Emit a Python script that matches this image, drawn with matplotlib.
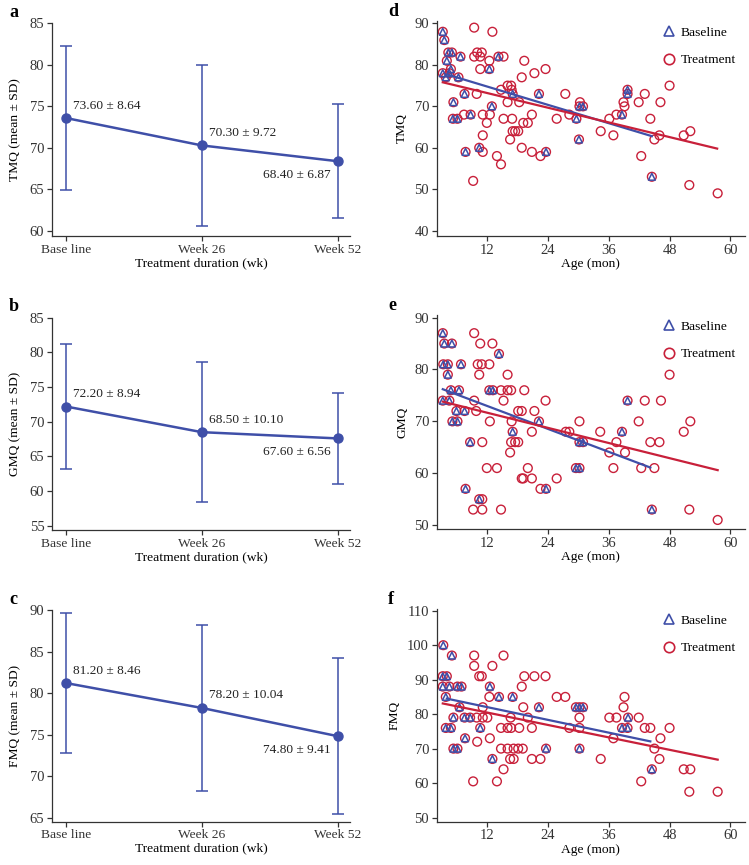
import numpy as np
import matplotlib
matplotlib.use("Agg")
import matplotlib.pyplot as plt
from matplotlib.lines import Line2D

plt.rcParams["font.family"] = ["Liberation Serif", "DejaVu Serif"]

# ===================== DATA =====================
time_labels = ["Base line", "Week 26", "Week 52"]

tmq_mean = [73.60, 70.30, 68.40]
tmq_sd = [8.64, 9.72, 6.87]
gmq_mean = [72.20, 68.50, 67.60]
gmq_sd = [8.94, 10.10, 6.56]
fmq_mean = [81.20, 78.20, 74.80]
fmq_sd = [8.46, 10.04, 9.41]

# panel d (TMQ vs age)
d_base_age = [3.2, 3.5, 4.3, 5.0, 4.0, 4.8, 6.7, 3.2, 3.8, 4.5, 6.3, 12.4, 14.2, 7.5,
              5.3, 5.2, 6.1, 8.7, 12.9, 17.0, 22.2, 29.6, 30.2, 30.9, 38.6, 39.7,
              39.7, 30.1, 7.7, 10.4, 23.6, 44.5]
d_base_score = [88, 86, 83, 83, 81, 79, 82, 78, 77, 78, 77, 79, 82, 73,
                71, 67, 67, 68, 70, 73, 73, 67, 70, 70, 68, 74,
                73, 62, 59, 60, 59, 53]
d_extra_age = [9.4, 13.0, 9.4, 10.0, 10.9, 10.6, 12.4, 15.2, 10.6, 19.3, 18.8, 21.3,
               23.5, 9.9, 14.7, 16.0, 16.7, 16.8, 16.0, 18.3, 16.9, 15.2, 11.1, 12.5,
               7.4, 11.9, 11.1, 16.5, 17.0, 17.5, 18.1, 19.1, 20.0, 20.8, 27.4, 28.2,
               25.7, 30.3, 34.4, 36.1, 36.9, 37.5, 38.9, 39.1, 41.9, 43.1, 44.2, 46.2,
               48.0, 45.0, 46.0, 50.8, 52.1, 9.2, 11.1, 13.9, 14.7, 18.8, 20.8, 22.5,
               42.4, 51.9, 57.5]
d_extra_score = [89, 88, 82, 83, 83, 82, 81, 82, 79, 81, 77, 78,
                 79, 73, 74, 75, 75, 74, 71, 71, 67, 67, 68, 68,
                 68, 66, 63, 62, 64, 64, 64, 66, 66, 68, 73, 68,
                 67, 71, 64, 67, 63, 68, 71, 70, 71, 73, 67, 71,
                 75, 62, 63, 63, 64, 52, 59, 58, 56, 60, 59, 58,
                 58, 51, 49]
d_base_fit = ([4.3, 44.5], [77.6, 62.8])
d_treat_fit = ([3.2, 57.4], [75.8, 59.8])

# panel e (GMQ vs age)
e_base_age = [3.2, 3.5, 5.0, 3.3, 4.2, 4.2, 6.8, 14.3, 12.4, 13.1, 4.8, 6.4, 3.2, 4.5,
              5.9, 7.5, 5.1, 6.1, 22.2, 17.0, 39.7, 38.6, 8.6, 30.2, 30.9, 29.5,
              30.2, 7.7, 10.4, 23.6, 44.5]
e_base_score = [87, 85, 85, 81, 81, 79, 81, 83, 76, 76, 76, 76, 74, 74,
                72, 72, 70, 70, 70, 68, 74, 68, 66, 66, 66, 61,
                61, 57, 55, 57, 53]
e_extra_age = [9.4, 10.6, 13.0, 10.1, 10.9, 12.4, 10.4, 16.0, 9.4, 9.8, 12.5, 14.7,
               16.0, 16.7, 19.3, 15.2, 18.1, 18.8, 16.8, 21.3, 23.5, 20.8, 27.5, 28.2,
               30.2, 34.3, 41.9, 43.1, 46.3, 48.0, 50.8, 52.1, 11.0, 16.5, 16.7, 17.5,
               18.1, 11.9, 13.9, 20.0, 18.8, 19.1, 20.8, 25.7, 22.5, 9.2, 11.0, 14.7,
               11.0, 37.5, 36.1, 39.2, 36.9, 42.4, 45.0, 44.2, 46.0, 51.9, 57.5]
e_extra_score = [87, 85, 85, 81, 81, 81, 79, 79, 74, 72, 70, 76,
                 76, 76, 76, 74, 72, 72, 70, 72, 74, 68, 68, 68,
                 70, 68, 70, 74, 74, 79, 68, 70, 66, 64, 66, 66,
                 66, 61, 61, 61, 59, 59, 59, 59, 57, 53, 53, 53,
                 55, 66, 64, 64, 61, 61, 61, 66, 66, 53, 51]
e_base_fit = ([3.2, 44.2], [76.2, 61.1])
e_treat_fit = ([3.2, 57.5], [73.8, 60.6])

# panel f (FMQ vs age)
f_base_age = [3.3, 5.0, 3.2, 4.0, 3.2, 4.5, 6.1, 6.9, 3.8, 6.5, 12.5, 14.3, 17.0, 22.2,
              5.3, 7.5, 8.6, 29.5, 30.2, 30.9, 39.8, 3.8, 4.8, 10.6, 5.3, 6.1, 7.6,
              13.0, 23.6, 30.2, 38.6, 39.7, 44.5]
f_base_score = [100, 97, 91, 91, 88, 88, 88, 88, 85, 82, 88, 85, 85, 82,
                79, 79, 79, 82, 82, 82, 79, 76, 76, 76, 70, 70, 73,
                67, 70, 70, 76, 76, 64]
f_extra_age = [9.4, 15.2, 9.4, 13.0, 10.4, 10.9, 19.3, 21.3, 23.5, 18.8, 12.4, 25.7,
               27.4, 39.1, 11.1, 19.1, 38.9, 9.9, 11.1, 12.0, 16.6, 20.0, 30.2, 36.1,
               37.5, 41.9, 10.0, 12.5, 9.2, 13.9, 14.7, 16.0, 16.7, 18.3, 20.8, 14.7,
               16.0, 17.2, 18.1, 19.0, 16.5, 17.2, 15.2, 20.8, 22.5, 28.2, 30.2, 34.4,
               36.9, 43.1, 44.2, 48.0, 45.0, 46.2, 46.0, 42.4, 50.8, 52.1, 51.9, 57.5]
f_extra_score = [97, 97, 94, 94, 91, 91, 91, 91, 91, 88, 85, 85,
                 85, 85, 82, 82, 82, 79, 79, 79, 79, 79, 79, 79,
                 79, 79, 72, 73, 60.5, 60.5, 76, 76, 76, 76, 76, 70,
                 70, 70, 70, 70, 67, 67, 64, 67, 67, 76, 76, 67,
                 73, 76, 76, 76, 70, 73, 67, 60.5, 64, 64, 57.5, 57.5]
f_base_fit = ([4.0, 44.2], [84.5, 72.1])
f_treat_fit = ([3.2, 57.5], [83.1, 66.8])

# ===================== STYLE =====================
BLUE = "#3F4FA8"
RED = "#C8203A"
AXC = "#333333"

W, H = 749, 865

def px_axes(fig, x0, y0, x1, y1):
    return fig.add_axes([x0 / W, 1 - y1 / H, (x1 - x0) / W, (y1 - y0) / H])

def style(ax):
    for s in ["top", "right"]:
        ax.spines[s].set_visible(False)
    for s in ["left", "bottom"]:
        ax.spines[s].set_color(AXC)
        ax.spines[s].set_linewidth(0.9)
    ax.tick_params(direction="out", length=3.5, width=0.9, colors=AXC,
                   labelsize=10.5, pad=2)

fig = plt.figure(figsize=(7.49, 8.65), dpi=100)

# ===================== LEFT: MEAN ± SD =====================
left_panels = [
    ("a", tmq_mean, tmq_sd, "TMQ (mean ± SD)", (59.4, 85), [60, 65, 70, 75, 80, 85], (23.3, 236)),
    ("b", gmq_mean, gmq_sd, "GMQ (mean ± SD)", (54.4, 85), [55, 60, 65, 70, 75, 80, 85], (317.7, 530)),
    ("c", fmq_mean, fmq_sd, "FMQ (mean ± SD)", (64.5, 90), [65, 70, 75, 80, 85, 90], (610, 821.7)),
]

xpos = np.arange(len(time_labels))

for letter, mean, sd, ylab, ylim, yticks, (ytop, ybot) in left_panels:
    ax = px_axes(fig, 52, ytop, 350, ybot)
    style(ax)
    ax.errorbar(xpos, mean, yerr=sd, color=BLUE, lw=1.8, marker="o", ms=6.5,
                capsize=4.5, elinewidth=1.1, capthick=1.1, ecolor=BLUE)
    ax.set_xlim(-0.103, 2.09)
    ax.set_ylim(*ylim)
    ax.set_yticks(yticks)
    ax.set_xticks(xpos)
    ax.set_xticklabels(time_labels, fontsize=9.7)
    ax.set_ylabel(ylab, fontsize=9.7, labelpad=6)
    ax.set_xlabel("Treatment duration (wk)", fontsize=9.7, labelpad=1)
    for i, (m, s) in enumerate(zip(mean, sd)):
        txt = f"{m:.2f} ± {s:.2f}"
        if i < 2:
            ax.annotate(txt, (xpos[i], m), xytext=(5, 9), textcoords="offset points",
                        ha="left", va="center", fontsize=9.6, color="#222222")
        else:
            ax.annotate(txt, (xpos[i], m), xytext=(-5, -10), textcoords="offset points",
                        ha="right", va="center", fontsize=9.6, color="#222222")
    fig.text(9 / W, 1 - (ytop - 11) / H, letter, fontsize=13, fontweight="bold",
             ha="left", va="center")

# ===================== RIGHT: SCATTER VS AGE =====================
right_panels = [
    ("d", d_base_age, d_base_score, d_extra_age, d_extra_score, d_base_fit, d_treat_fit,
     "TMQ", (38.7, 90.6), [40, 50, 60, 70, 80, 90], (21, 236)),
    ("e", e_base_age, e_base_score, e_extra_age, e_extra_score, e_base_fit, e_treat_fit,
     "GMQ", (49.2, 90.5), [50, 60, 70, 80, 90], (315, 529.3)),
    ("f", f_base_age, f_base_score, f_extra_age, f_extra_score, f_base_fit, f_treat_fit,
     "FMQ", (48.8, 110.5), [50, 60, 70, 80, 90, 100, 110], (609, 821.7)),
]

for letter, b_age, b_sc, x_age, x_sc, b_fit, t_fit, ylab, ylim, yticks, (ytop, ybot) in right_panels:
    ax = px_axes(fig, 436.7, ytop, 745, ybot)
    style(ax)
    t_age = list(b_age) + list(x_age)
    t_sc = list(b_sc) + list(x_sc)
    ax.scatter(t_age, t_sc, s=40, facecolors="none", edgecolors=RED, linewidths=1.0, zorder=2)
    ax.scatter(b_age, b_sc, s=24, marker="^", facecolors="none", edgecolors=BLUE,
               linewidths=1.1, zorder=3)
    ax.plot(b_fit[0], b_fit[1], color=BLUE, lw=1.6, zorder=4)
    ax.plot(t_fit[0], t_fit[1], color=RED, lw=1.6, zorder=4)
    ax.set_xlim(2, 62.9)
    ax.set_ylim(*ylim)
    ax.set_yticks(yticks)
    ax.set_xticks([12, 24, 36, 48, 60])
    ax.set_ylabel(ylab, fontsize=9.7, labelpad=4.5)
    ax.set_xlabel("Age (mon)", fontsize=9.7, labelpad=1)
    handles = [
        Line2D([], [], ls="none", marker="^", ms=7.5, mfc="none", mec=BLUE, mew=1.2),
        Line2D([], [], ls="none", marker="o", ms=7.5, mfc="none", mec=RED, mew=1.2),
    ]
    ax.legend(handles, ["Baseline", "Treatment"], loc="upper right",
              bbox_to_anchor=(1.01, 1.03), frameon=False, fontsize=9.7,
              labelspacing=1.1, handletextpad=0.3, handlelength=1.2)
    fig.text(388 / W, 1 - (ytop - 9) / H, letter, fontsize=13, fontweight="bold",
             ha="left", va="center")

fig.savefig("out.png", dpi=100)
